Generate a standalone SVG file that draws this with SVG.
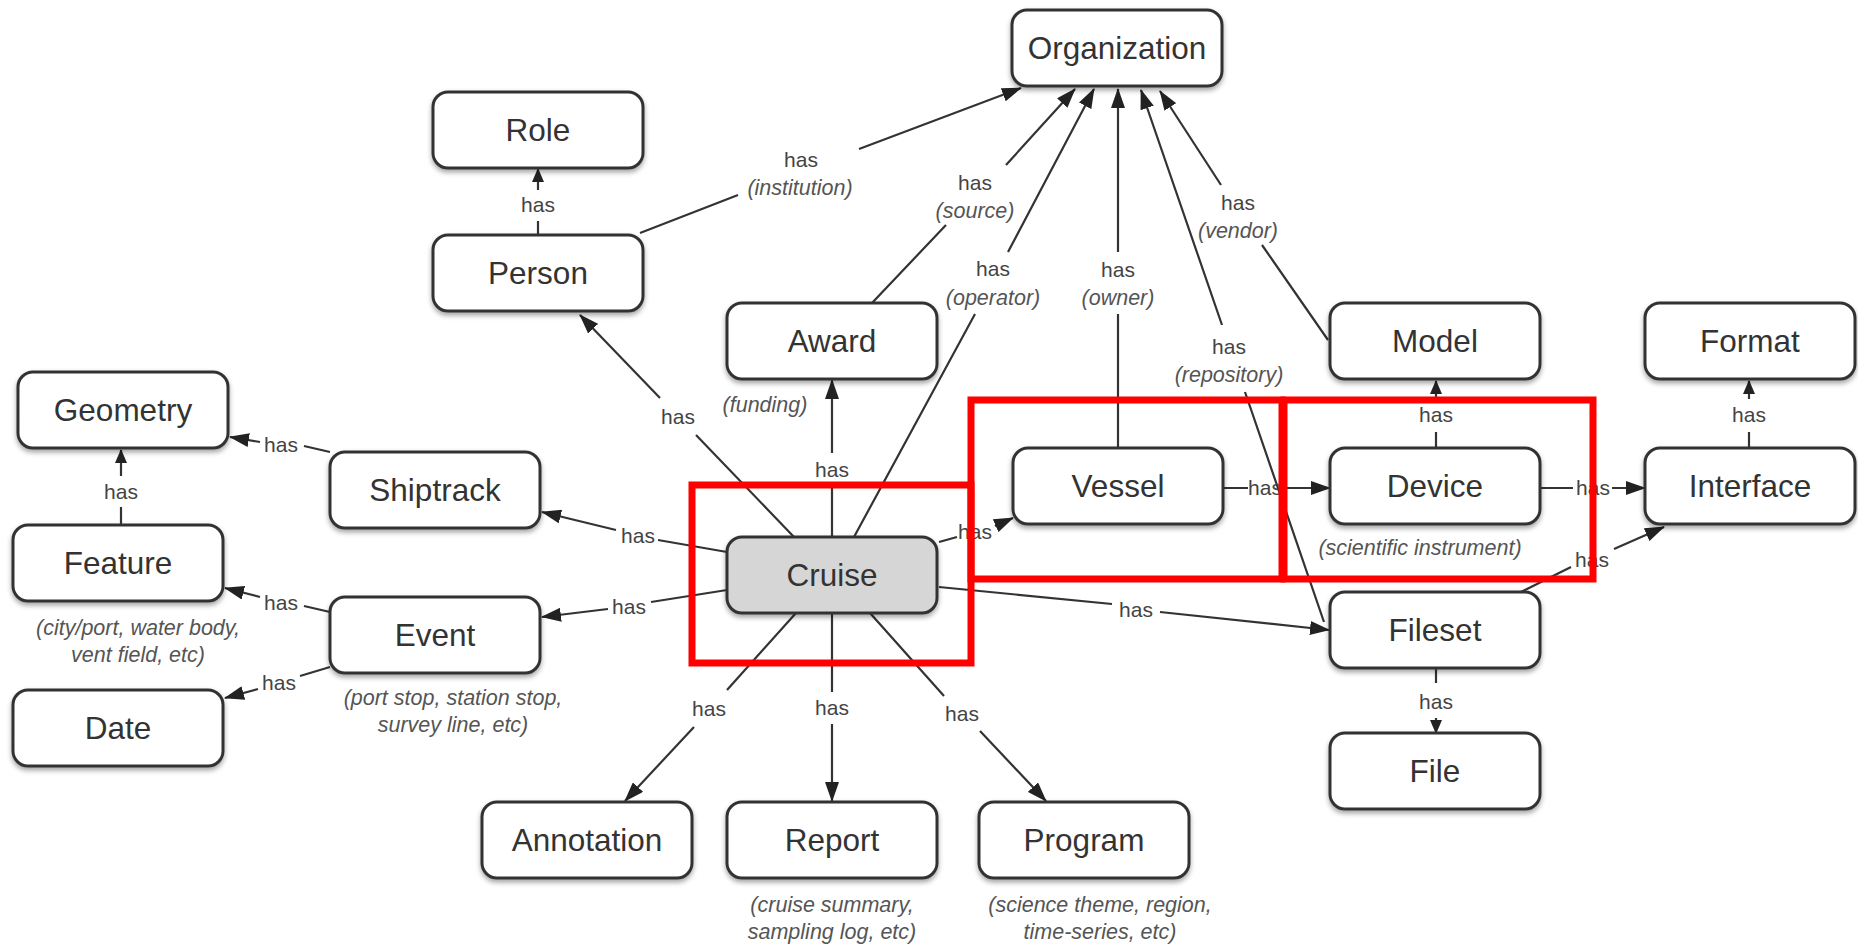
<svg xmlns="http://www.w3.org/2000/svg" width="1858" height="944" viewBox="0 0 1858 944">
<style>
.box{fill:#fff;stroke:#333;stroke-width:3}
.grey{fill:#d6d6d6}
.nt{font-family:"Liberation Sans",Arial,sans-serif;font-size:31.5px;fill:#333;text-anchor:middle}
.lt{font-family:"Liberation Sans",Arial,sans-serif;font-size:21px;fill:#444;text-anchor:middle}
.it{font-family:"Liberation Sans",Arial,sans-serif;font-size:21.5px;font-style:italic;fill:#555;text-anchor:middle}
.c{fill:none;stroke:#333;stroke-width:2.2}
.a{marker-end:url(#ar)}
.s{marker-end:url(#sm)}
.red{fill:none;stroke:#ff0000;stroke-width:7}
</style>
<defs>
<marker id="ar" markerUnits="userSpaceOnUse" markerWidth="20" markerHeight="14" refX="19" refY="7" orient="auto"><path d="M0,0 L20,7 L0,14 z" fill="#222"/></marker>
<marker id="sm" markerUnits="userSpaceOnUse" markerWidth="14" markerHeight="12" refX="13" refY="6" orient="auto"><path d="M0,0 L14,6 L0,12 z" fill="#222"/></marker>
<filter id="sh" x="-10%" y="-10%" width="120%" height="140%"><feDropShadow dx="0" dy="3" stdDeviation="2.5" flood-color="#000" flood-opacity="0.35"/></filter>
</defs>
<rect width="1858" height="944" fill="#fff"/>
<g id="connectors">
<path class="c a" d="M640,233 L738,195 M859,149 L1021,88"/>
<path class="c s" d="M538,235 L538,221 M538,190 L538,169"/>
<path class="c a" d="M872,303 L946,225 M1006,165 L1075,89"/>
<path class="c a" d="M854,537 L975,314 M1008,252 L1094,89"/>
<path class="c a" d="M1118,448 L1118,314 M1118,252 L1118,89"/>
<path class="c a" d="M1324,622 L1245,392 M1222,325 L1141,90"/>
<path class="c a" d="M1328,340 L1262,245 M1221,185 L1160,91"/>
<path class="c a" d="M794,537 L696,435 M660,398 L580,315"/>
<path class="c a" d="M832,537 L832,484 M832,453 L832,380"/>
<path class="c a" d="M727,552 L658,540 M616,530 L542,512"/>
<path class="c a" d="M727,590 L651,602 M608,609 L542,617"/>
<path class="c a" d="M330,452 L304,446 M260,442 L230,437"/>
<path class="c s" d="M121,525 L121,507 M121,476 L121,450"/>
<path class="c a" d="M330,612 L304,606 M260,597 L225,588"/>
<path class="c a" d="M330,667 L300,676 M258,689 L225,698"/>
<path class="c a" d="M796,613 L727,690 M694,727 L625,801"/>
<path class="c a" d="M832,613 L832,692 M832,724 L832,801"/>
<path class="c a" d="M870,613 L944,696 M980,731 L1046,801"/>
<path class="c a" d="M939,542 L957,537 M995,526 L1013,518"/>
<path class="c a" d="M939,587 L1112,604 M1160,612 L1329,630"/>
<path class="c a" d="M1223,488 L1248,488 M1284,488 L1330,488"/>
<path class="c a" d="M1540,488 L1573,488 M1612,488 L1645,488"/>
<path class="c s" d="M1436,448 L1436,432 M1436,399 L1436,381"/>
<path class="c s" d="M1749,448 L1749,432 M1749,399 L1749,381"/>
<path class="c a" d="M1521,592 L1571,567 M1614,549 L1664,527"/>
<path class="c s" d="M1436,668 L1436,683 M1436,718 L1436,733"/>
</g>
<g id="labels">
<text class="lt" x="801" y="167">has</text><text class="it" x="800" y="195">(institution)</text>
<text class="lt" x="975" y="190">has</text><text class="it" x="975" y="218">(source)</text>
<text class="lt" x="993" y="276">has</text><text class="it" x="993" y="305">(operator)</text>
<text class="lt" x="1118" y="277">has</text><text class="it" x="1118" y="305">(owner)</text>
<text class="lt" x="1229" y="354">has</text><text class="it" x="1229" y="382">(repository)</text>
<text class="lt" x="1238" y="210">has</text><text class="it" x="1238" y="238">(vendor)</text>
<text class="lt" x="538" y="212">has</text>
<text class="lt" x="678" y="424">has</text>
<text class="lt" x="832" y="477">has</text>
<text class="it" x="765" y="412">(funding)</text>
<text class="lt" x="638" y="543">has</text>
<text class="lt" x="629" y="614">has</text>
<text class="lt" x="281" y="452">has</text>
<text class="lt" x="121" y="499">has</text>
<text class="lt" x="281" y="610">has</text>
<text class="lt" x="279" y="690">has</text>
<text class="lt" x="709" y="716">has</text>
<text class="lt" x="832" y="715">has</text>
<text class="lt" x="962" y="721">has</text>
<text class="lt" x="975" y="539">has</text>
<text class="lt" x="1136" y="617">has</text>
<text class="lt" x="1265" y="495">has</text>
<text class="lt" x="1593" y="495">has</text>
<text class="lt" x="1436" y="422">has</text>
<text class="lt" x="1749" y="422">has</text>
<text class="lt" x="1592" y="567">has</text>
<text class="lt" x="1436" y="709">has</text>
<text class="it" x="138" y="635">(city/port, water body,</text><text class="it" x="138" y="662">vent field, etc)</text>
<text class="it" x="453" y="705">(port stop, station stop,</text><text class="it" x="453" y="732">survey line, etc)</text>
<text class="it" x="832" y="912">(cruise summary,</text><text class="it" x="832" y="939">sampling log, etc)</text>
<text class="it" x="1100" y="912">(science theme, region,</text><text class="it" x="1100" y="939">time-series, etc)</text>
<text class="it" x="1420" y="555">(scientific instrument)</text>
</g>
<g id="organization"><rect class="box" x="1012" y="10" width="210" height="76" rx="15" filter="url(#sh)"/><text class="nt" x="1117" y="59">Organization</text></g>
<g id="role"><rect class="box" x="433" y="92" width="210" height="76" rx="15" filter="url(#sh)"/><text class="nt" x="538" y="141">Role</text></g>
<g id="person"><rect class="box" x="433" y="235" width="210" height="76" rx="15" filter="url(#sh)"/><text class="nt" x="538" y="284">Person</text></g>
<g id="award"><rect class="box" x="727" y="303" width="210" height="76" rx="15" filter="url(#sh)"/><text class="nt" x="832" y="352">Award</text></g>
<g id="model"><rect class="box" x="1330" y="303" width="210" height="76" rx="15" filter="url(#sh)"/><text class="nt" x="1435" y="352">Model</text></g>
<g id="format"><rect class="box" x="1645" y="303" width="210" height="76" rx="15" filter="url(#sh)"/><text class="nt" x="1750" y="352">Format</text></g>
<g id="geometry"><rect class="box" x="18" y="372" width="210" height="76" rx="15" filter="url(#sh)"/><text class="nt" x="123" y="421">Geometry</text></g>
<g id="vessel"><rect class="box" x="1013" y="448" width="210" height="76" rx="15" filter="url(#sh)"/><text class="nt" x="1118" y="497">Vessel</text></g>
<g id="device"><rect class="box" x="1330" y="448" width="210" height="76" rx="15" filter="url(#sh)"/><text class="nt" x="1435" y="497">Device</text></g>
<g id="interface"><rect class="box" x="1645" y="448" width="210" height="76" rx="15" filter="url(#sh)"/><text class="nt" x="1750" y="497">Interface</text></g>
<g id="shiptrack"><rect class="box" x="330" y="452" width="210" height="76" rx="15" filter="url(#sh)"/><text class="nt" x="435" y="501">Shiptrack</text></g>
<g id="feature"><rect class="box" x="13" y="525" width="210" height="76" rx="15" filter="url(#sh)"/><text class="nt" x="118" y="574">Feature</text></g>
<g id="cruise"><rect class="box grey" x="727" y="537" width="210" height="76" rx="15" filter="url(#sh)"/><text class="nt" x="832" y="586">Cruise</text></g>
<g id="fileset"><rect class="box" x="1330" y="592" width="210" height="76" rx="15" filter="url(#sh)"/><text class="nt" x="1435" y="641">Fileset</text></g>
<g id="event"><rect class="box" x="330" y="597" width="210" height="76" rx="15" filter="url(#sh)"/><text class="nt" x="435" y="646">Event</text></g>
<g id="date"><rect class="box" x="13" y="690" width="210" height="76" rx="15" filter="url(#sh)"/><text class="nt" x="118" y="739">Date</text></g>
<g id="file"><rect class="box" x="1330" y="733" width="210" height="76" rx="15" filter="url(#sh)"/><text class="nt" x="1435" y="782">File</text></g>
<g id="annotation"><rect class="box" x="482" y="802" width="210" height="76" rx="15" filter="url(#sh)"/><text class="nt" x="587" y="851">Annotation</text></g>
<g id="report"><rect class="box" x="727" y="802" width="210" height="76" rx="15" filter="url(#sh)"/><text class="nt" x="832" y="851">Report</text></g>
<g id="program"><rect class="box" x="979" y="802" width="210" height="76" rx="15" filter="url(#sh)"/><text class="nt" x="1084" y="851">Program</text></g>
<g id="highlights">
<rect class="red" x="692" y="485" width="279" height="178"/>
<rect class="red" x="971" y="400" width="311" height="179"/>
<rect class="red" x="1284" y="400" width="309" height="179"/>
</g>
</svg>
